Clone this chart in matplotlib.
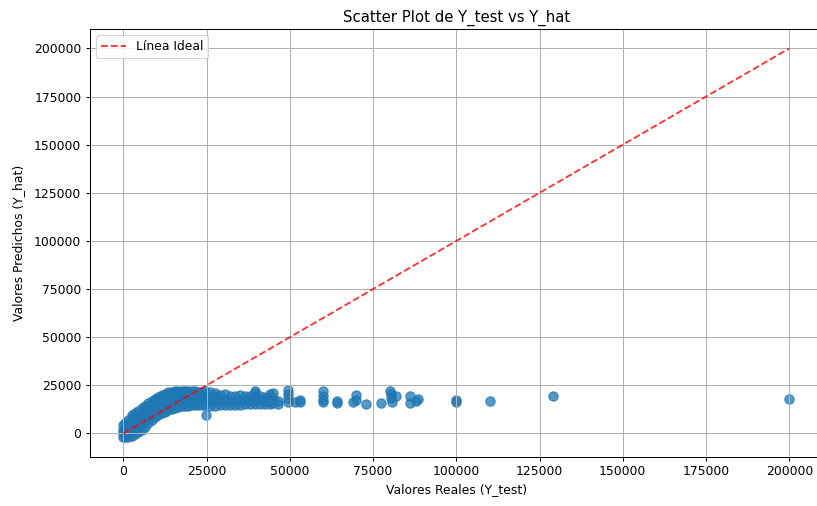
import numpy as np
import matplotlib
matplotlib.use("Agg")
import matplotlib.pyplot as plt

# dense cloud, rising part: x column -> predicted values read in that column
rise_x = [0, 500, 1500, 2500, 3500, 4500, 5500, 6500, 7500, 8500, 9500,
          10500, 11500, 12500, 13500, 14500, 15500, 16500, 17500, 18500,
          19500, 20500, 21500, 22500, 23500, 24500]
rise_y = [
    [-2000, 0, 2000, 4500],
    [-2000, 500, 3000, 5500],
    [-2000, 1000, 4000, 7000],
    [-1500, 1500, 4500, 8000, 9500],
    [-500, 2500, 5500, 8500, 10500],
    [500, 3500, 6500, 9500, 11500],
    [2000, 5000, 8000, 11000, 13000],
    [3500, 6500, 9500, 12500, 14500],
    [5500, 8500, 11500, 14500, 16000],
    [7000, 10000, 13000, 16000, 17000],
    [8500, 11500, 14500, 17000, 18000],
    [9500, 12500, 15500, 18000, 19000],
    [10500, 13500, 16500, 19000, 20000],
    [11000, 14000, 17000, 19500, 20500],
    [12000, 15000, 18000, 20500, 21500],
    [12500, 15000, 17500, 20000, 21500],
    [13000, 15500, 18000, 20500, 22000],
    [13500, 16000, 18500, 21000, 22000],
    [14000, 16500, 19000, 21500, 22000],
    [14500, 17000, 19500, 22000],
    [14500, 17000, 19500, 22000],
    [15000, 17500, 20000, 22000],
    [15000, 17500, 20000, 22000],
    [15000, 17500, 20000, 21500],
    [15000, 17500, 19500, 21500],
    [15000, 17500, 19500, 22000],
]

# flat band after 25000
band_x = [26000, 27500, 29000, 30500, 32000, 33500, 35000, 36500, 38000,
          39500, 41000, 42500, 44000, 45000, 46500, 49500, 51500, 53000]
band_y = [
    [14500, 17000, 19500, 21500],
    [14500, 17000, 19500, 21000],
    [15000, 17500, 20000],
    [15000, 17500, 20500],
    [15000, 17000, 19500],
    [15000, 17000, 19500],
    [15000, 17500, 20000],
    [15500, 17500, 19500],
    [15500, 17500, 19500],
    [15500, 17500, 19500, 21000, 22000],
    [15500, 17500, 19500],
    [15500, 17000, 19000],
    [15500, 17000, 18500, 20500],
    [16000, 18000, 21000],
    [15500, 17000],
    [16300, 18500, 20500, 22500],
    [16400],
    [16400, 17300],
]

# sparse points
sparse_x = [59900, 59900, 59900, 59900, 64200, 64200, 68900, 69900, 70000,
            72900, 77500, 80000, 80300, 80300, 80600, 82000, 86200, 86200,
            88500, 88000, 100000, 100000, 110000, 129000, 200000]
sparse_y = [21800, 19500, 17500, 16300, 15900, 17000, 16400, 19900, 17300,
            15100, 15600, 22100, 20300, 18500, 16300, 19400, 19400, 15600,
            17700, 16700, 16500, 17500, 16900, 19700, 17700]

outlier_x = [24900]
outlier_y = [9500]

y_test, y_hat = [], []
for cols, vals in ((rise_x, rise_y), (band_x, band_y)):
    for xv, ys in zip(cols, vals):
        for yv in ys:
            y_test.append(xv)
            y_hat.append(yv)
y_test = np.array(y_test + sparse_x + outlier_x, dtype=float)
y_hat = np.array(y_hat + sparse_y + outlier_y, dtype=float)

dpi = 89
fig = plt.figure(figsize=(817 / dpi, 506 / dpi), dpi=dpi)
ax = fig.add_axes([0.1102, 0.0974, 0.8966, 0.8453])

ax.scatter(y_test, y_hat, alpha=0.75, s=56)
lo, hi = y_test.min(), y_test.max()
ax.plot([lo, hi], [lo, hi], 'r--', alpha=0.8, label='Línea Ideal')

ax.set_xlim(-10000, 210000)
ax.set_ylim(-12100, 210100)
ax.set_title('Scatter Plot de Y_test vs Y_hat')
ax.set_xlabel('Valores Reales (Y_test)')
ax.set_ylabel('Valores Predichos (Y_hat)', labelpad=7)
ax.legend(loc='upper left')
ax.grid(True)

fig.savefig('out.png', dpi=dpi)
